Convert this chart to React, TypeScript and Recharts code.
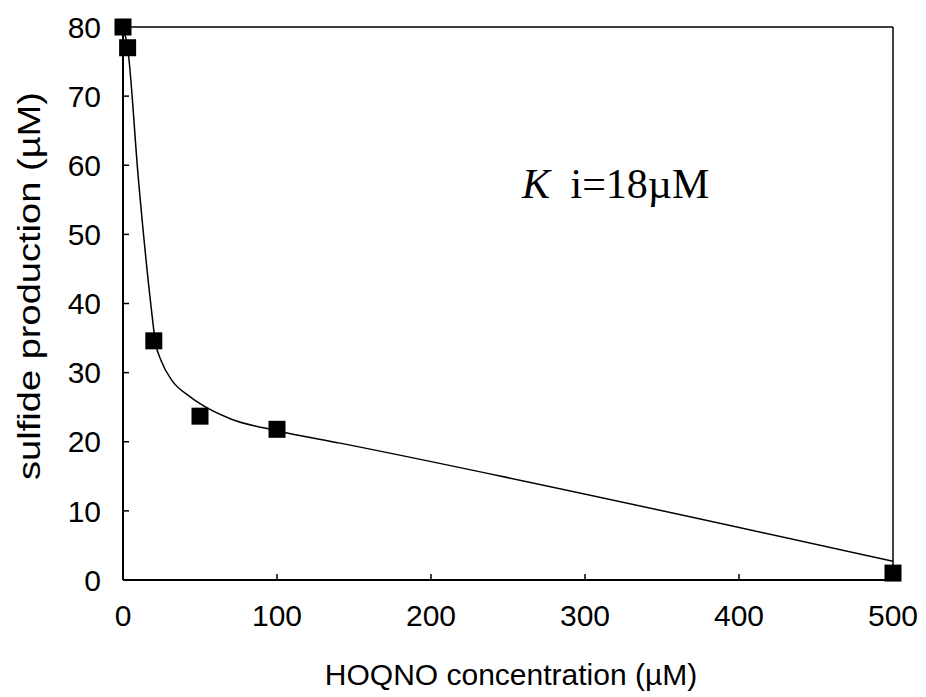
import {
  ComposedChart,
  Line,
  Scatter,
  XAxis,
  YAxis,
  ReferenceLine,
} from "recharts";

// measured points
const concentration = [0, 3, 20, 50, 100, 500];
const sulfide = [80, 77, 34.6, 23.7, 21.8, 1];

// fitted curve
const fitConc = [0, 3, 10, 18, 21, 25, 32, 43, 50, 70, 100, 141, 500];
const fitSulfide = [80, 77, 58, 40, 34.5, 31.6, 28.8, 26.6, 25.5, 23.3, 21.6, 19.8, 2.7];

const xTicks = [0, 100, 200, 300, 400, 500];
const yTicks = [0, 10, 20, 30, 40, 50, 60, 70, 80];

const points = concentration.map((x, i) => ({ x, y: sulfide[i] }));
const curve = fitConc.map((x, i) => ({ x, y: fitSulfide[i] }));

const font = "'Liberation Sans', Arial, Helvetica, sans-serif";
const tickStyle = { fontSize: 30, fill: "#000", fontFamily: font };

const Square = (props: any) => {
  const { cx, cy } = props;
  return <rect x={cx - 8.5} y={cy - 8.5} width={17} height={17} fill="#000" />;
};

const YLabel = () => (
  <text
    x={40}
    y={286}
    transform="rotate(-90, 40, 286)"
    textAnchor="middle"
    fontSize={31}
    fontFamily={font}
    fill="#000"
    textLength={388}
    lengthAdjust="spacingAndGlyphs"
  >
    sulfide production (µM)
  </text>
);

const XLabel = () => (
  <text
    x={511}
    y={685}
    textAnchor="middle"
    fontSize={30}
    fontFamily={font}
    fill="#000"
  >
    HOQNO concentration (µM)
  </text>
);

const App = () => {
  return (
    <div style={{ position: "absolute", left: 0, top: 0, width: 926, height: 697, background: "#fff" }}>
      <ComposedChart
        width={926}
        height={697}
        margin={{ top: 27, right: 33, bottom: 0, left: 0 }}
      >
        <XAxis
          type="number"
          dataKey="x"
          domain={[0, 500]}
          ticks={xTicks}
          interval={0}
          height={117}
          tickSize={-6}
          tickMargin={31}
          tick={tickStyle}
          axisLine={{ stroke: "#000", strokeWidth: 2 }}
          tickLine={{ stroke: "#000", strokeWidth: 1.5 }}
          label={{ content: () => <XLabel /> }}
        />
        <YAxis
          type="number"
          dataKey="y"
          domain={[0, 80]}
          ticks={yTicks}
          interval={0}
          width={123}
          tickSize={-6}
          tickMargin={28}
          tick={tickStyle}
          axisLine={{ stroke: "#000", strokeWidth: 2 }}
          tickLine={{ stroke: "#000", strokeWidth: 1.5 }}
          label={{ content: () => <YLabel /> }}
        />
        <ReferenceLine y={80} stroke="#000" strokeWidth={1.5} />
        <ReferenceLine x={500} stroke="#000" strokeWidth={1.5} />
        <Line
          data={curve}
          dataKey="y"
          type="monotone"
          stroke="#000"
          strokeWidth={1.5}
          dot={false}
          activeDot={false}
          isAnimationActive={false}
        />
        <Scatter
          data={points}
          dataKey="y"
          fill="#000"
          shape={Square}
          isAnimationActive={false}
        />
      </ComposedChart>
      <svg
        width={926}
        height={697}
        style={{ position: "absolute", left: 0, top: 0, pointerEvents: "none" }}
      >
        <text
          x={522}
          y={198}
          fontSize={42}
          fontFamily="'Liberation Serif', 'Times New Roman', serif"
          fill="#000"
        >
          <tspan fontStyle="italic">K</tspan>
          <tspan dx={10}> i=18µM</tspan>
        </text>
      </svg>
    </div>
  );
};

export default App;
